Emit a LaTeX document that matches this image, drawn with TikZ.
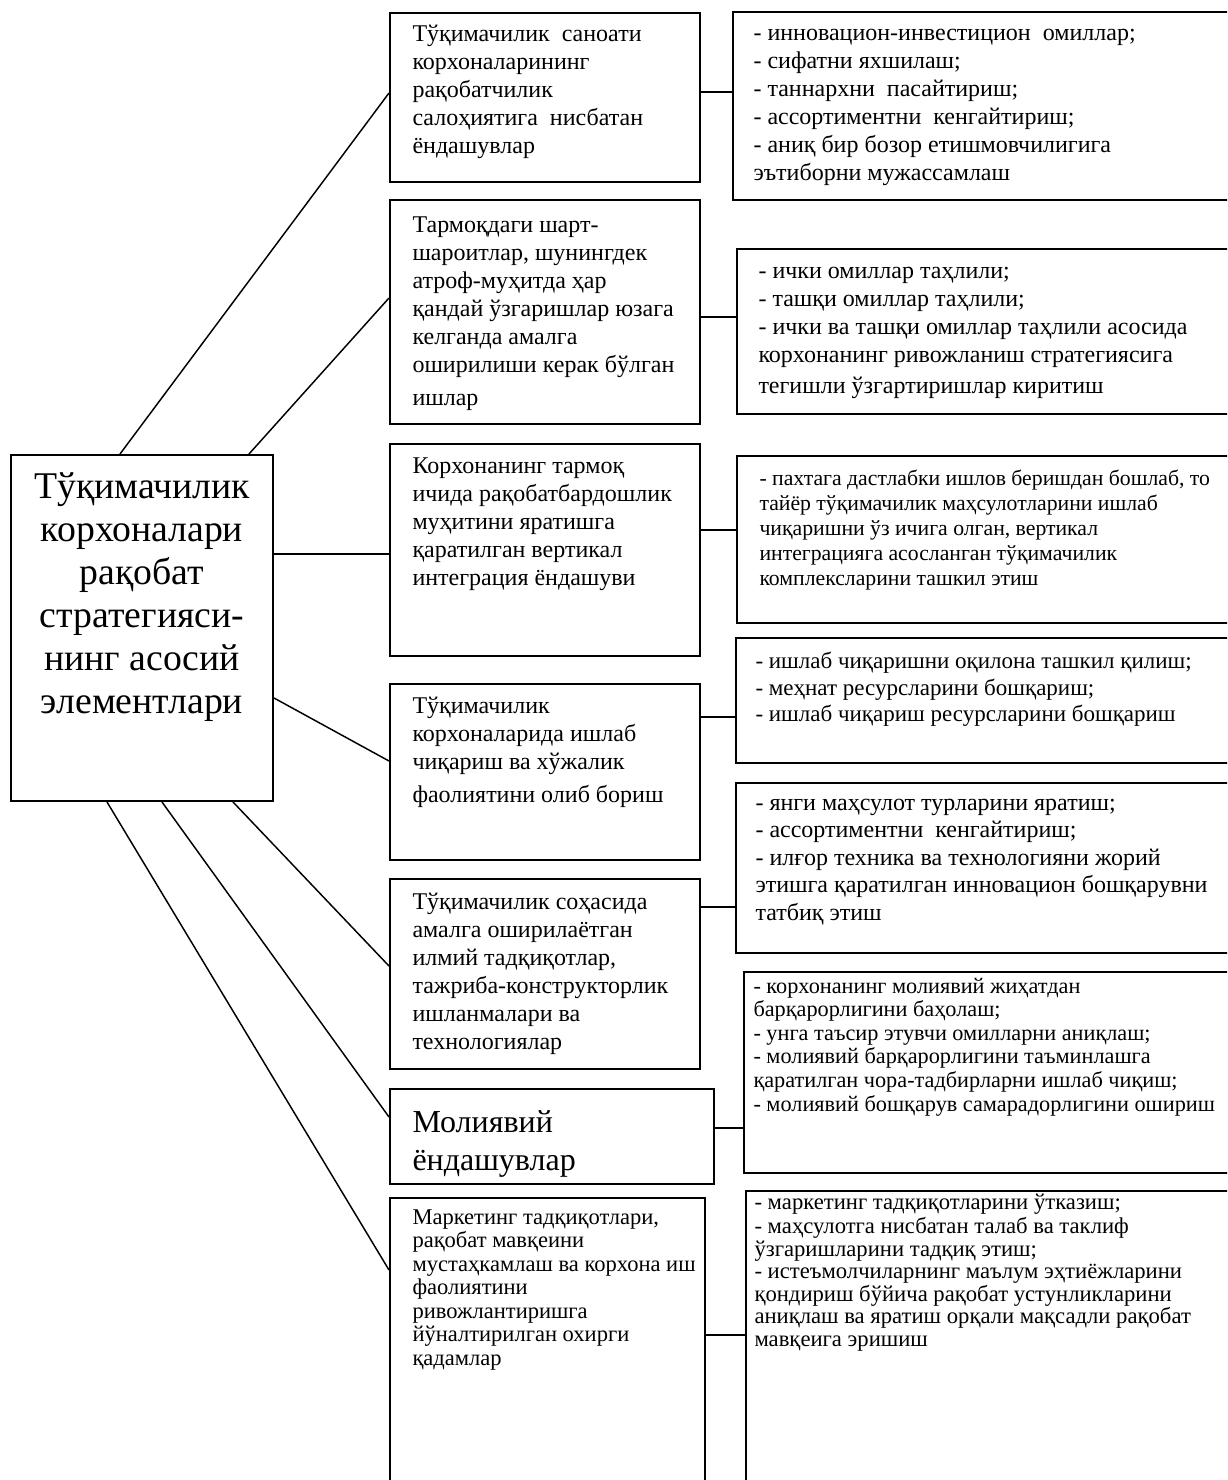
\documentclass[tikz,border=0pt]{standalone}
\usepackage{fontspec}
\setmainfont{Liberation Serif}
\usetikzlibrary{calc}

\tikzset{every picture/.style={line width=0.75pt}}
\tikzset{
  box/.style={draw, line width=1.5pt, inner sep=0pt, anchor=north west},
  link/.style={line width=1.1pt},
  txt/.style={inner sep=0pt, anchor=north west, align=left},
  hubfont/.style={font=\fontsize{28.3}{32.25}\selectfont},
  midfont/.style={font=\fontsize{18}{21}\selectfont},
}

\begin{document}
\begin{tikzpicture}[x=0.75pt,y=0.75pt,yscale=-1,xscale=1]
\useasboundingbox (0,0) rectangle (1227,1480);
\clip (0,0) rectangle (1227,1480);

%Shape: Rectangle [hub]
\node [box, minimum width=196.5pt, minimum height=259.5pt] (hub) at (10,454) {};
%Shape: Rectangle [middle column]
\node [box, minimum width=232.5pt, minimum height=126.75pt] (m1) at (389,12) {};
\node [box, minimum width=232.5pt, minimum height=168pt] (m2) at (389,199) {};
\node [box, minimum width=232.5pt, minimum height=159pt] (m3) at (389,443) {};
\node [box, minimum width=232.5pt, minimum height=132pt] (m4) at (389,683) {};
\node [box, minimum width=232.5pt, minimum height=142.5pt] (m5) at (389,878) {};
\node [box, minimum width=243pt, minimum height=71.25pt] (m6) at (389,1088) {};
\node [box, minimum width=236.25pt, minimum height=227.25pt] (m7) at (389,1197) {};
%Shape: Rectangle [right column]
\node [box, minimum width=381pt, minimum height=141pt] (r1) at (732,11) {};
\node [box, minimum width=378pt, minimum height=123.75pt] (r2) at (736,248) {};
\node [box, minimum width=378pt, minimum height=125.25pt] (r3) at (736,455) {};
\node [box, minimum width=378.75pt, minimum height=93.75pt] (r4) at (735,637) {};
\node [box, minimum width=378.75pt, minimum height=127.5pt] (r5) at (735,782) {};
\node [box, minimum width=372.75pt, minimum height=150.75pt] (r6) at (743,971) {};
\node [box, minimum width=371.25pt, minimum height=232.5pt] (r7) at (745,1190) {};

%Straight Lines [hub to middle column]
\draw [link] ($(hub.north west)+(110,0)$) -- ($(m1.north west)+(0,81)$);
\draw [link] ($(hub.north west)+(239,0)$) -- ($(m2.north west)+(0,99)$);
\draw [link] ($(hub.north east)+(0,100)$) -- ($(m3.north west)+(0,111)$);
\draw [link] ($(hub.north east)+(0,244)$) -- ($(m4.north west)+(0,78)$);
\draw [link] ($(hub.south west)+(223,0)$) -- ($(m5.north west)+(0,88)$);
\draw [link] ($(hub.south west)+(152,0)$) -- ($(m6.north west)+(0,29)$);
\draw [link] ($(hub.south west)+(97,0)$) -- ($(m7.north west)+(0,73)$);
%Straight Lines [middle to right column]
\draw [link] ($(m1.north east)+(0,80)$) -- ($(r1.north west)+(0,81)$);
\draw [link] ($(m2.north east)+(0,118)$) -- ($(r2.north west)+(0,69)$);
\draw [link] ($(m3.north east)+(0,87)$) -- ($(r3.north west)+(0,75)$);
\draw [link] ($(m4.north east)+(0,34)$) -- ($(r4.north west)+(0,80)$);
\draw [link] ($(m5.north east)+(0,29)$) -- ($(r5.north west)+(0,125)$);
\draw [link] ($(m6.north east)+(0,40)$) -- ($(r6.north west)+(0,157)$);
\draw [link] ($(m7.north east)+(0,138)$) -- ($(r7.north west)+(0,145)$);

% Text Node
\node [txt, hubfont, anchor=north, align=center] (hubtxt) at ($(hub.north)+(0,14)$) {\strut Тўқимачилик\\корхоналари\\рақобат\\стратегияси-\\нинг асосий\\элементлари};
% Text Node
\node [txt, midfont] (m1txt) at ($(m1.north west)+(23,9.4)$) {\strut Тўқимачилик\ \ саноати\\корхоналарининг\\рақобатчилик\\салоҳиятига\ \ нисбатан\\ёндашувлар};
% Text Node
\node [txt, midfont] (m2txt) at ($(m2.north west)+(23,13.4)$) {\strut Тармоқдаги шарт-\\шароитлар, шунингдек\\атроф-муҳитда ҳар\\қандай ўзгаришлар юзага\\келганда амалга\\оширилиши керак бўлган\\[3.75pt]ишлар};
% Text Node
\node [txt, midfont] (m3txt) at ($(m3.north west)+(23,10.4)$) {\strut Корхонанинг тармоқ\\ичида рақобатбардошлик\\муҳитини яратишга\\қаратилган вертикал\\интеграция ёндашуви};
% Text Node
\node [txt, midfont] (m4txt) at ($(m4.north west)+(23,10.4)$) {\strut Тўқимачилик\\корхоналарида ишлаб\\чиқариш ва хўжалик\\[3.75pt]фаолиятини олиб бориш};
% Text Node
\node [txt, midfont] (m5txt) at ($(m5.north west)+(23,11.5)$) {\strut Тўқимачилик соҳасида\\амалга оширилаётган\\илмий тадқиқотлар,\\тажриба-конструкторлик\\ишланмалари ва\\технологиялар};
% Text Node
\node [txt, font=\fontsize{24}{28.5}\selectfont] (m6txt) at ($(m6.north west)+(23,17.4)$) {\strut Молиявий\\ёндашувлар};
% Text Node
\node [txt, font=\fontsize{16.9}{17.6}\selectfont] (m7txt) at ($(m7.north west)+(23,10.5)$) {\strut Маркетинг тадқиқотлари,\\рақобат мавқеини\\мустаҳкамлаш ва корхона иш\\фаолиятини\\ривожлантиришга\\йўналтирилган охирги\\қадамлар};

% Text Node
\node [txt, midfont] (r1txt) at ($(r1.north west)+(21,9.4)$) {\strut - инновацион-инвестицион\ \ омиллар;\\- сифатни яхшилаш;\\- таннархни\ \ пасайтириш;\\- ассортиментни\ \ кенгайтириш;\\- аниқ бир бозор етишмовчилигига\\эътиборни мужассамлаш};
% Text Node
\node [txt, midfont] (r2txt) at ($(r2.north west)+(22,10.4)$) {\strut - ички омиллар таҳлили;\\- ташқи омиллар таҳлили;\\- ички ва ташқи омиллар таҳлили асосида\\корхонанинг ривожланиш стратегиясига\\[2.25pt]тегишли ўзгартиришлар киритиш};
% Text Node
\node [txt, font=\fontsize{16.3}{18.75}\selectfont] (r3txt) at ($(r3.north west)+(23,12.5)$) {\strut - пахтага дастлабки ишлов беришдан бошлаб, то\\тайёр тўқимачилик маҳсулотларини ишлаб\\чиқаришни ўз ичига олган, вертикал\\интеграцияга асосланган тўқимачилик\\комплексларини ташкил этиш};
% Text Node
\node [txt, font=\fontsize{17.25}{19.9}\selectfont] (r4txt) at ($(r4.north west)+(20,12.5)$) {\strut - ишлаб чиқаришни оқилона ташкил қилиш;\\- меҳнат ресурсларини бошқариш;\\- ишлаб чиқариш ресурсларини бошқариш};
% Text Node
\node [txt, font=\fontsize{18}{20.6}\selectfont] (r5txt) at ($(r5.north west)+(20,8.5)$) {\strut - янги маҳсулот турларини яратиш;\\- ассортиментни\ \ кенгайтириш;\\- илғор техника ва технологияни жорий\\этишга қаратилган инновацион бошқарувни\\татбиқ этиш};
% Text Node
\node [txt, font=\fontsize{16.7}{17.7}\selectfont] (r6txt) at ($(r6.north west)+(10,5)$) {\strut - корхонанинг молиявий жиҳатдан\\барқарорлигини баҳолаш;\\- унга таъсир этувчи омилларни аниқлаш;\\- молиявий барқарорлигини таъминлашга\\қаратилган чора-тадбирларни ишлаб чиқиш;\\- молиявий бошқарув самарадорлигини ошириш};
% Text Node
\node [txt, font=\fontsize{17}{16.9}\selectfont] (r7txt) at ($(r7.north west)+(9,3)$) {\strut - маркетинг тадқиқотларини ўтказиш;\\- маҳсулотга нисбатан талаб ва таклиф\\ўзгаришларини тадқиқ этиш;\\- истеъмолчиларнинг маълум эҳтиёжларини\\қондириш бўйича рақобат устунликларини\\аниқлаш ва яратиш орқали мақсадли рақобат\\мавқеига эришиш};

\end{tikzpicture}
\end{document}
